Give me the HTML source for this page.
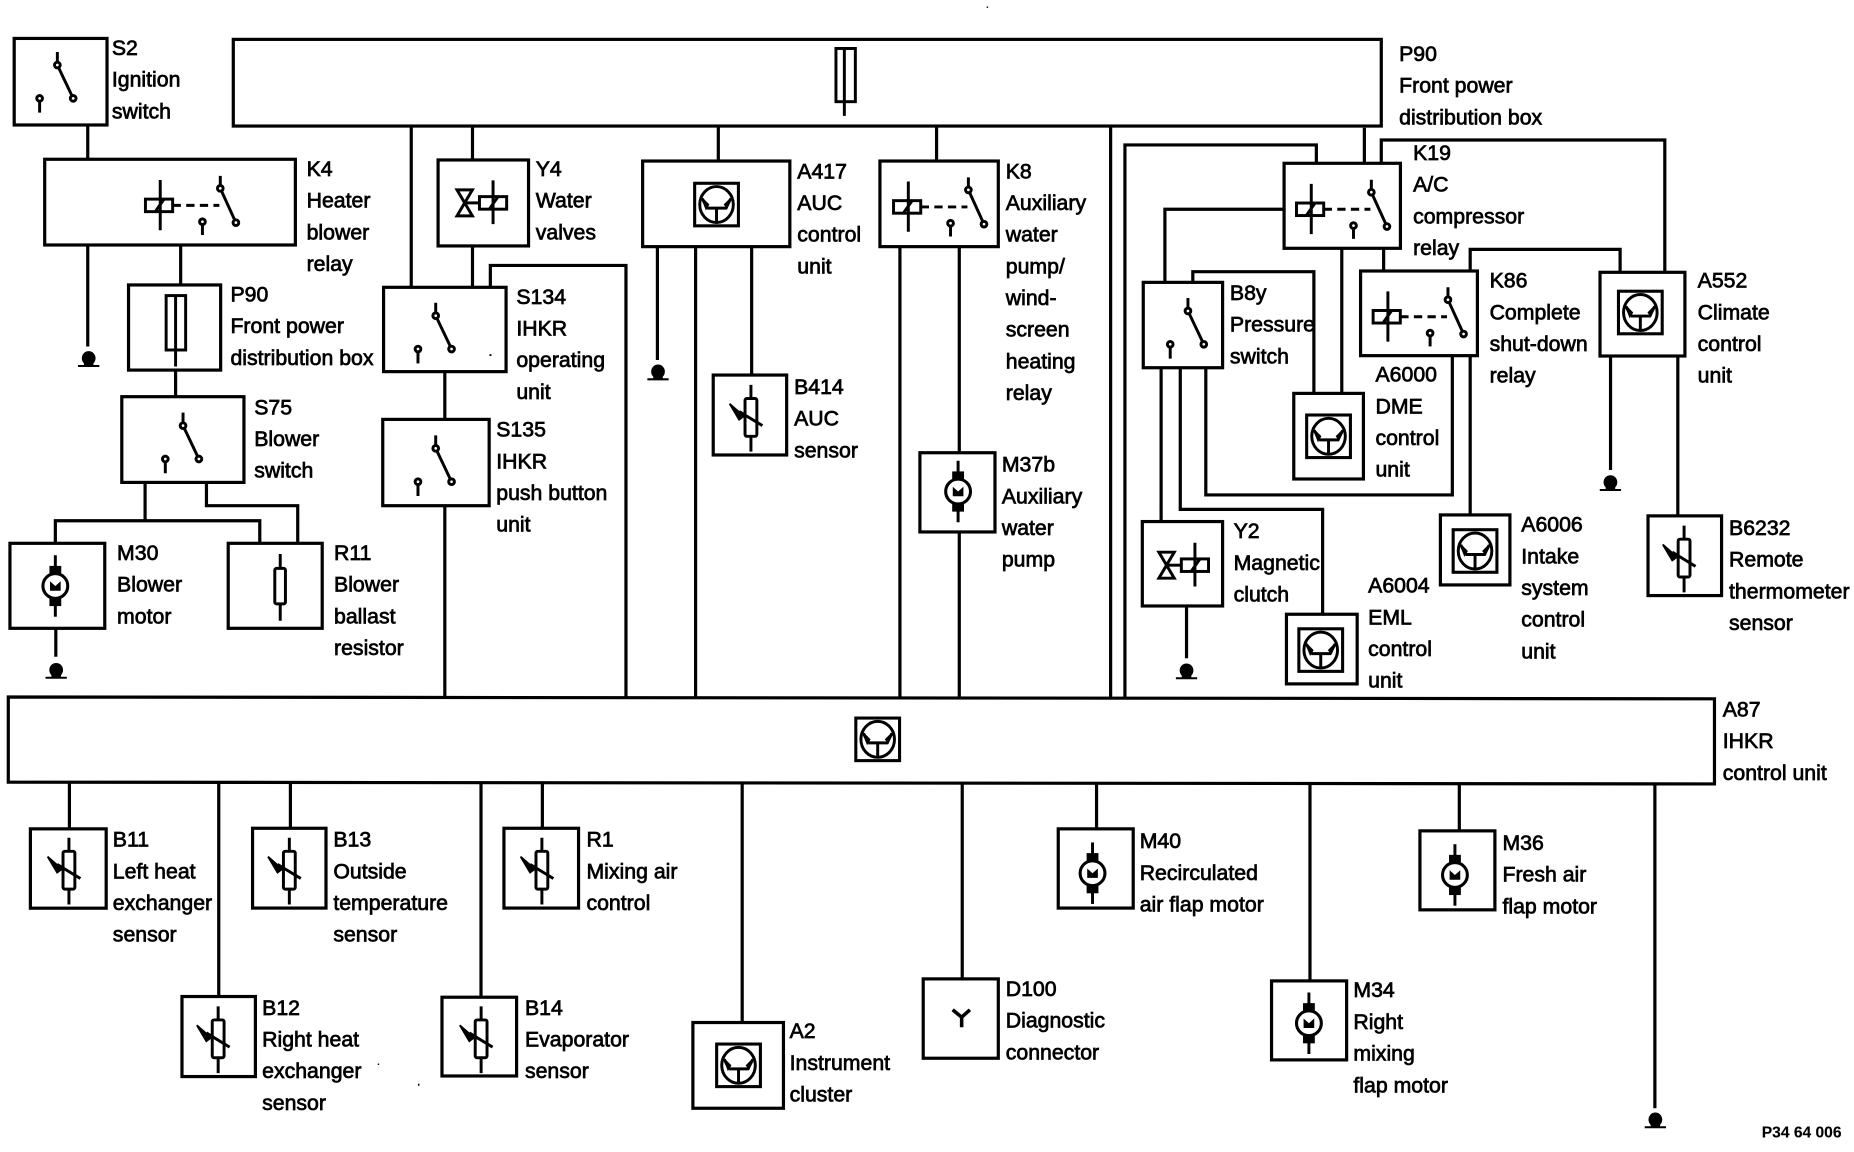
<!DOCTYPE html>
<html><head><meta charset="utf-8"><title>IHKR wiring diagram</title>
<style>
html,body{margin:0;padding:0;background:#fff}
svg{display:block}
text{font-family:"Liberation Sans",Arial,sans-serif;font-size:18px;fill:#000;stroke:#000;stroke-width:.6}
.w{fill:none;stroke:#000;stroke-width:2.7;stroke-linejoin:miter}
.b{fill:#fff;stroke:#000;stroke-width:2.7}
.i{fill:none;stroke:#000;stroke-width:2.5}
</style></head><body>
<svg xmlns="http://www.w3.org/2000/svg" width="1854" height="1152" viewBox="0 0 1568 974.3">
<defs>
<g id="sw" class="i"><path d="M0-11V0L13.4 28.2M-15 28.2V40.3"/><circle cx="0" cy="0" r="2.4" fill="#fff"/><circle cx="13.4" cy="28.2" r="2.4" fill="#fff"/><circle cx="-15" cy="28.2" r="2.4" fill="#fff"/></g>
<g id="relay" class="i"><rect x="-11.5" y="-5.3" width="23" height="10.6"/><path d="M1-21.5V21M-3 5L4-5"/><path d="M11.5 0H51" stroke-dasharray="7 4.5"/><path d="M51.8-25V-14.4L65 14.6M36.7 13.8V25"/><circle cx="51.8" cy="-14.4" r="2.4" fill="#fff"/><circle cx="65" cy="14.6" r="2.4" fill="#fff"/><circle cx="36.7" cy="13.8" r="2.4" fill="#fff"/></g>
<g id="valve" class="i"><rect x="-11.5" y="-5.3" width="23" height="10.6"/><path d="M0-19V18M-3 5L4-5"/><path d="M-30.5-11H-17.5L-30.5 11H-17.5Z"/><path d="M-24 0H-11.5"/></g>
<g id="ecu"><rect x="-18.5" y="-18" width="37" height="36" fill="#fff" stroke="#000" stroke-width="2.6"/><ellipse cx="0" cy="0" rx="14.2" ry="15.2" class="i"/><path d="M0 15V3M-8 3H8L12-5M-8 3L-12-5" class="i"/><path d="M-14-8L-6 0-9 5Z" fill="#000"/><path d="M14-8L6 0 9 4Z" fill="#000"/></g>
<g id="var" class="i"><rect x="-5" y="-16" width="10" height="32" rx="1.5"/><path d="M0-27.5V-16M0 16V29M-10-5L9.7 7"/><path d="M-18-11.5L-6-1-10 2Z" fill="#000" stroke-width="1.5"/></g>
<g id="mot"><path d="M0-26V26" class="i"/><rect x="-5" y="-17" width="10" height="9" fill="#000"/><rect x="-5" y="9" width="10" height="8" fill="#000"/><circle r="10.5" fill="#fff" stroke="#000" stroke-width="2.6"/><path d="M-4.5-4V4H4.5V-4L0 0Z" fill="#000"/></g>
<g id="gnd"><path d="M-9 0H9" stroke="#000" stroke-width="1.7"/><ellipse cx="0" cy="-6.5" rx="5.8" ry="6" fill="#000"/><rect x="-4" y="-4" width="8" height="4" fill="#000"/></g>
</defs>

<!-- wires -->
<g class="w">
<path d="M74.2 106V135M74.2 207V293M152.8 207V241M148.5 313V336"/>
<path d="M122.7 408V440M46.8 459V440.4H219.7V459M174.6 408V427.7H251.8V459M47.2 531V555.4"/>
<path d="M347.8 106V243M399.6 106V135M399.6 208V243M414.7 243V224.5H529.4V590M376.2 314V355M376.2 428V590"/>
<path d="M607.5 106V136M556 208V304.5M588.3 208V590M635.7 208V317"/>
<path d="M792.1 106V136M761.1 208V590M811.3 208V383M811.3 450V590M939.3 106V590"/>
<path d="M951.4 590V122.6H1113.3V138M1153.9 108V138M1168.2 138V118.4H1408V230"/>
<path d="M1086 177H985.2V238M1008.8 238V229.8H1111.2V333M1134.8 210V333M1170.2 210V229"/>
<path d="M1243.4 229V210.9H1370.2V230M1362.1 301V397.5M1419 301V436.5"/>
<path d="M1228.3 301V418.6H1019.8V311M1243.4 301V435.5M982 311V441M998.2 311V430.8H1118.6V519.5M1003.5 512.5V556.7"/>
<path d="M58.7 662V701M185 662V843M245.6 662V701M406.8 662V843M458.7 662V701M627.7 662V865M813.8 662V828M927.4 662V701M1107.9 662V830M1234.2 662V703M1399.6 663V937.3"/>
</g>

<!-- boxes -->
<g class="b">
<rect x="12" y="32.5" width="78.5" height="73.2"/>
<rect x="197.3" y="33.3" width="970.9" height="73.3"/>
<rect x="37.8" y="134.7" width="212" height="72.5"/>
<rect x="108.7" y="241" width="77.9" height="72"/>
<rect x="103" y="335.5" width="103.3" height="72.5"/>
<rect x="370.5" y="135.3" width="76.5" height="72.7"/>
<rect x="324.4" y="243" width="103.6" height="71.3"/>
<rect x="323.7" y="354.7" width="90" height="73"/>
<rect x="8.4" y="459.5" width="80.2" height="71.9"/>
<rect x="193" y="459.5" width="79.5" height="71.9"/>
<rect x="543.5" y="136.2" width="124.5" height="72.4"/>
<rect x="603.2" y="317.2" width="62.1" height="67.6"/>
<rect x="744.2" y="136.2" width="100.1" height="72.4"/>
<rect x="778" y="382.9" width="63.5" height="67"/>
<rect x="1086" y="138.1" width="98.4" height="71.9"/>
<rect x="966.9" y="238.8" width="67.1" height="72.2"/>
<rect x="1150.7" y="229.2" width="98.8" height="71.6"/>
<rect x="1353.2" y="230.3" width="71.8" height="70.8"/>
<rect x="1094.2" y="332.7" width="58.9" height="72.4"/>
<rect x="966.1" y="441.1" width="67.9" height="71.4"/>
<rect x="1088" y="519.5" width="59.8" height="58.9"/>
<rect x="1218.2" y="435.5" width="58.8" height="59.2"/>
<rect x="1393.8" y="436.3" width="62.2" height="67.4"/>
<path d="M7 589.5L1450 591V663L7 661.5Z"/>
<rect x="25.7" y="701" width="64.1" height="67.1"/>
<rect x="153.9" y="842.8" width="62.1" height="67.7"/>
<rect x="213.6" y="700.5" width="62.1" height="67.5"/>
<rect x="373.8" y="843.4" width="63.1" height="66.6"/>
<rect x="426.2" y="700.5" width="63.1" height="67.5"/>
<rect x="586" y="864.8" width="76.6" height="72.5"/>
<rect x="780.8" y="827.9" width="63.5" height="67.1"/>
<rect x="895" y="701" width="63.4" height="67"/>
<rect x="1075.4" y="829.6" width="63.5" height="66.8"/>
<rect x="1200.9" y="702.7" width="63.4" height="66.8"/>
</g>

<!-- fuses / resistors -->
<g class="i">
<rect x="707" y="41" width="16.4" height="45"/><path d="M714.1 41V98"/>
<rect x="140.5" y="250" width="16.5" height="46"/><path d="M148.5 250V310"/>
<rect x="232.4" y="480.7" width="9" height="30" rx="1.5"/><path d="M237 468.5V480.7M237 510.8V525"/>
<path d="M805.7 854L813.3 860.3 820.3 854M813.3 860.3V868.8" stroke-width="3"/>
</g>

<!-- switches -->
<use href="#sw" x="48.5" y="55"/>
<use href="#sw" x="368.5" y="267"/>
<use href="#sw" x="368.5" y="379.2"/>
<use href="#sw" x="154.8" y="360"/>
<use href="#sw" x="1004.7" y="263"/>
<!-- relays -->
<use href="#relay" x="134.5" y="173.7"/>
<use href="#relay" x="1108" y="177"/>
<use href="#relay" x="1172.8" y="267.9"/>
<use href="#relay" x="767.2" y="175"/>
<!-- valves -->
<use href="#valve" x="417" y="171.6"/>
<use href="#valve" x="1010.6" y="478"/>
<!-- control units -->
<use href="#ecu" x="606" y="173"/>
<use href="#ecu" x="742.3" y="625.3"/>
<use href="#ecu" x="1123.6" y="369"/>
<use href="#ecu" x="1387.3" y="264.3"/>
<use href="#ecu" x="1117" y="549.8"/>
<use href="#ecu" x="1247.5" y="466"/>
<use href="#ecu" x="624.6" y="901"/>
<!-- sensors -->
<use href="#var" x="58.3" y="736"/>
<use href="#var" x="184.5" y="878.6"/>
<use href="#var" x="244.7" y="736"/>
<use href="#var" x="458.3" y="736"/>
<use href="#var" x="406.9" y="878.6"/>
<use href="#var" x="635.1" y="353"/>
<use href="#var" x="1424.3" y="472"/>
<!-- motors -->
<use href="#mot" x="46.8" y="495.6"/>
<use href="#mot" x="810.3" y="415.7"/>
<use href="#mot" x="924" y="738.5"/>
<use href="#mot" x="1107" y="865.4"/>
<use href="#mot" x="1230.5" y="740"/>
<!-- grounds -->
<use href="#gnd" x="75" y="309.5"/>
<use href="#gnd" x="47.5" y="573.2"/>
<use href="#gnd" x="556.5" y="320.8"/>
<use href="#gnd" x="1362" y="414.4"/>
<use href="#gnd" x="1003.5" y="573.6"/>
<use href="#gnd" x="1400" y="953.4"/>
<!-- specks -->
<g fill="#000"><rect x="414" y="299.5" width="1.6" height="1.6"/><rect x="834.5" y="5.5" width="1.2" height="1.2"/><rect x="319.5" y="899.5" width="1.2" height="1.2"/><rect x="353.5" y="916.5" width="1.2" height="1.8"/></g>

<!-- labels -->
<g transform="translate(-.7 0)">
<text y="46.5"><tspan x="95.3">S2</tspan><tspan x="95.3" dy="26.8">Ignition</tspan><tspan x="95.3" dy="26.8">switch</tspan></text>
<text y="51.5"><tspan x="1184">P90</tspan><tspan x="1184" dy="26.8">Front power</tspan><tspan x="1184" dy="26.8">distribution box</tspan></text>
<text y="148.8"><tspan x="260">K4</tspan><tspan x="260" dy="26.8">Heater</tspan><tspan x="260" dy="26.8">blower</tspan><tspan x="260" dy="26.8">relay</tspan></text>
<text y="148.8"><tspan x="453.8">Y4</tspan><tspan x="453.8" dy="26.8">Water</tspan><tspan x="453.8" dy="26.8">valves</tspan></text>
<text y="150.8"><tspan x="675">A417</tspan><tspan x="675" dy="26.8">AUC</tspan><tspan x="675" dy="26.8">control</tspan><tspan x="675" dy="26.8">unit</tspan></text>
<text y="150.8"><tspan x="851.3">K8</tspan><tspan x="851.3" dy="26.8">Auxiliary</tspan><tspan x="851.3" dy="26.8">water</tspan><tspan x="851.3" dy="26.8">pump/</tspan><tspan x="851.3" dy="26.8">wind-</tspan><tspan x="851.3" dy="26.8">screen</tspan><tspan x="851.3" dy="26.8">heating</tspan><tspan x="851.3" dy="26.8">relay</tspan></text>
<text y="135.3"><tspan x="1195.8">K19</tspan><tspan x="1195.8" dy="26.8">A/C</tspan><tspan x="1195.8" dy="26.8">compressor</tspan><tspan x="1195.8" dy="26.8">relay</tspan></text>
<text y="255"><tspan x="195.6">P90</tspan><tspan x="195.6" dy="26.8">Front power</tspan><tspan x="195.6" dy="26.8">distribution box</tspan></text>
<text y="257"><tspan x="437.4">S134</tspan><tspan x="437.4" dy="26.8">IHKR</tspan><tspan x="437.4" dy="26.8">operating</tspan><tspan x="437.4" dy="26.8">unit</tspan></text>
<text y="253.7"><tspan x="1040.9">B8y</tspan><tspan x="1040.9" dy="26.8">Pressure</tspan><tspan x="1040.9" dy="26.8">switch</tspan></text>
<text y="243.3"><tspan x="1260.5">K86</tspan><tspan x="1260.5" dy="26.8">Complete</tspan><tspan x="1260.5" dy="26.8">shut-down</tspan><tspan x="1260.5" dy="26.8">relay</tspan></text>
<text y="243.3"><tspan x="1436.5">A552</tspan><tspan x="1436.5" dy="26.8">Climate</tspan><tspan x="1436.5" dy="26.8">control</tspan><tspan x="1436.5" dy="26.8">unit</tspan></text>
<text y="322.8"><tspan x="1164">A6000</tspan><tspan x="1164" dy="26.8">DME</tspan><tspan x="1164" dy="26.8">control</tspan><tspan x="1164" dy="26.8">unit</tspan></text>
<text y="333.2"><tspan x="672.3">B414</tspan><tspan x="672.3" dy="26.8">AUC</tspan><tspan x="672.3" dy="26.8">sensor</tspan></text>
<text y="350.4"><tspan x="215.7">S75</tspan><tspan x="215.7" dy="26.8">Blower</tspan><tspan x="215.7" dy="26.8">switch</tspan></text>
<text y="369.3"><tspan x="420.4">S135</tspan><tspan x="420.4" dy="26.8">IHKR</tspan><tspan x="420.4" dy="26.8">push button</tspan><tspan x="420.4" dy="26.8">unit</tspan></text>
<text y="398.9"><tspan x="848">M37b</tspan><tspan x="848" dy="26.8">Auxiliary</tspan><tspan x="848" dy="26.8">water</tspan><tspan x="848" dy="26.8">pump</tspan></text>
<text y="449.6"><tspan x="1287.3">A6006</tspan><tspan x="1287.3" dy="26.8">Intake</tspan><tspan x="1287.3" dy="26.8">system</tspan><tspan x="1287.3" dy="26.8">control</tspan><tspan x="1287.3" dy="26.8">unit</tspan></text>
<text y="455.2"><tspan x="1044">Y2</tspan><tspan x="1044" dy="26.8">Magnetic</tspan><tspan x="1044" dy="26.8">clutch</tspan></text>
<text y="452.4"><tspan x="1463">B6232</tspan><tspan x="1463" dy="26.8">Remote</tspan><tspan x="1463" dy="26.8">thermometer</tspan><tspan x="1463" dy="26.8">sensor</tspan></text>
<text y="473.6"><tspan x="99.7">M30</tspan><tspan x="99.7" dy="26.8">Blower</tspan><tspan x="99.7" dy="26.8">motor</tspan></text>
<text y="473.6"><tspan x="283.2">R11</tspan><tspan x="283.2" dy="26.8">Blower</tspan><tspan x="283.2" dy="26.8">ballast</tspan><tspan x="283.2" dy="26.8">resistor</tspan></text>
<text y="501.2"><tspan x="1157.8">A6004</tspan><tspan x="1157.8" dy="26.8">EML</tspan><tspan x="1157.8" dy="26.8">control</tspan><tspan x="1157.8" dy="26.8">unit</tspan></text>
<text y="606"><tspan x="1457.7">A87</tspan><tspan x="1457.7" dy="26.8">IHKR</tspan><tspan x="1457.7" dy="26.8">control unit</tspan></text>
<text y="716"><tspan x="96.1">B11</tspan><tspan x="96.1" dy="26.8">Left heat</tspan><tspan x="96.1" dy="26.8">exchanger</tspan><tspan x="96.1" dy="26.8">sensor</tspan></text>
<text y="716"><tspan x="282.6">B13</tspan><tspan x="282.6" dy="26.8">Outside</tspan><tspan x="282.6" dy="26.8">temperature</tspan><tspan x="282.6" dy="26.8">sensor</tspan></text>
<text y="716"><tspan x="496.7">R1</tspan><tspan x="496.7" dy="26.8">Mixing air</tspan><tspan x="496.7" dy="26.8">control</tspan></text>
<text y="858.3"><tspan x="222.4">B12</tspan><tspan x="222.4" dy="26.8">Right heat</tspan><tspan x="222.4" dy="26.8">exchanger</tspan><tspan x="222.4" dy="26.8">sensor</tspan></text>
<text y="858.3"><tspan x="444.7">B14</tspan><tspan x="444.7" dy="26.8">Evaporator</tspan><tspan x="444.7" dy="26.8">sensor</tspan></text>
<text y="878"><tspan x="668.5">A2</tspan><tspan x="668.5" dy="26.8">Instrument</tspan><tspan x="668.5" dy="26.8">cluster</tspan></text>
<text y="842.3"><tspan x="851.3">D100</tspan><tspan x="851.3" dy="26.8">Diagnostic</tspan><tspan x="851.3" dy="26.8">connector</tspan></text>
<text y="717.4"><tspan x="964.6">M40</tspan><tspan x="964.6" dy="26.8">Recirculated</tspan><tspan x="964.6" dy="26.8">air flap motor</tspan></text>
<text y="843.4"><tspan x="1145.3">M34</tspan><tspan x="1145.3" dy="26.8">Right</tspan><tspan x="1145.3" dy="26.8">mixing</tspan><tspan x="1145.3" dy="26.8">flap motor</tspan></text>
<text y="718.8"><tspan x="1271.4">M36</tspan><tspan x="1271.4" dy="26.8">Fresh air</tspan><tspan x="1271.4" dy="26.8">flap motor</tspan></text>
<text x="1490.7" y="962" style="font-size:13.2px;font-weight:bold;stroke-width:.1">P34 64 006</text>
</g>
</svg>
</body></html>
